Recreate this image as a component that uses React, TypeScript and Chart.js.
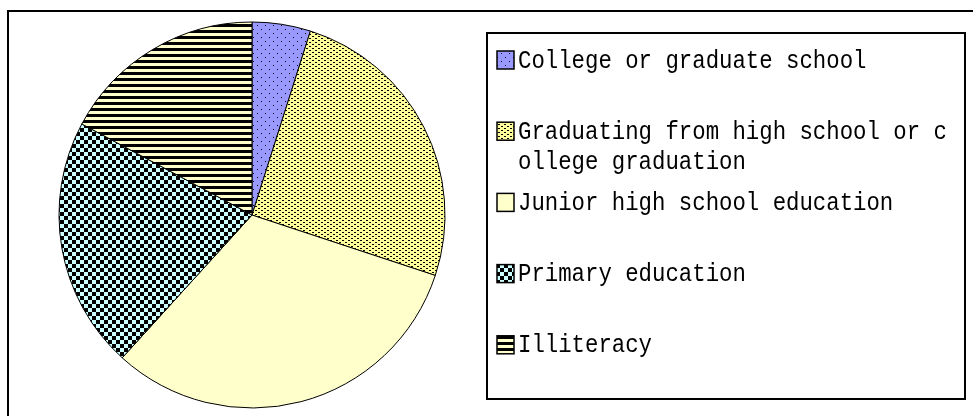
import { useEffect, useRef } from "react";
import { Chart, registerables } from "chart.js";

Chart.register(...registerables);

const categories = [
  "College or graduate school",
  "Graduating from high school or college graduation",
  "Junior high school education",
  "Primary education",
  "Illiteracy",
];
const shares = [4.9, 25.2, 31.7, 21.1, 17.2];

type Cell = [number, number, number, number];

function makePattern(
  ctx: CanvasRenderingContext2D,
  w: number,
  h: number,
  bg: string,
  fg: string,
  cells: Cell[]
): CanvasPattern | string {
  const c = document.createElement("canvas");
  c.width = w;
  c.height = h;
  const g = c.getContext("2d")!;
  g.fillStyle = bg;
  g.fillRect(0, 0, w, h);
  g.fillStyle = fg;
  cells.forEach(([x, y, cw, ch]) => g.fillRect(x, y, cw, ch));
  return ctx.createPattern(c, "repeat") || bg;
}

export default function App() {
  const ref = useRef<HTMLCanvasElement | null>(null);

  useEffect(() => {
    document.body.style.margin = "0";
    const canvas = ref.current!;
    const ctx = canvas.getContext("2d")!;

    const fills = [
      makePattern(ctx, 8, 8, "#9999ff", "#000", [
        [1, 1, 1, 1],
        [5, 5, 1, 1],
      ]),
      makePattern(ctx, 6, 4, "#ffff99", "#000", [
        [0, 0, 2, 1],
        [3, 2, 2, 1],
      ]),
      "#ffffcc",
      makePattern(ctx, 8, 8, "#ccffff", "#000", [
        [0, 0, 4, 4],
        [4, 4, 4, 4],
      ]),
      makePattern(ctx, 6, 6, "#ffffcc", "#000", [[0, 0, 6, 3]]),
    ];

    const frameAndLegend = {
      id: "frameAndLegend",
      afterDraw(chart: Chart) {
        const c = chart.ctx;
        c.save();
        // outer frame (only top and left visible)
        c.fillStyle = "#000";
        c.fillRect(7, 10, 2, 406);
        c.fillRect(7, 10, 966, 2);
        // legend box
        c.strokeStyle = "#000";
        c.lineWidth = 2;
        c.strokeRect(487, 33, 478, 366);
        // entries
        const maxChars = 32;
        const y0 = 60;
        const step = 71.2;
        const lineH = 30;
        const fontPx = 25;
        const sx = 13.4 / (fontPx * 0.6);
        c.font = `${fontPx}px "Liberation Mono", monospace`;
        c.textBaseline = "middle";
        c.textAlign = "left";
        categories.forEach((label, i) => {
          const cy = y0 + step * i;
          c.fillStyle = fills[i] as any;
          c.fillRect(497, cy - 9, 17, 18);
          c.lineWidth = 1.5;
          c.strokeStyle = "#000";
          c.strokeRect(497, cy - 9, 17, 18);
          const lines: string[] = [];
          for (let k = 0; k < label.length; k += maxChars) lines.push(label.slice(k, k + maxChars));
          c.fillStyle = "#000";
          lines.forEach((ln, j) => {
            c.save();
            c.translate(518, cy + j * lineH);
            c.scale(sx, 1);
            c.fillText(ln, 0, 1);
            c.restore();
          });
        });
        c.restore();
      },
    };

    const chart = new Chart(canvas, {
      type: "pie",
      data: {
        labels: categories,
        datasets: [
          {
            data: shares,
            backgroundColor: fills as any,
            borderColor: "#000",
            borderWidth: 1,
          },
        ],
      },
      options: {
        animation: false,
        responsive: false,
        devicePixelRatio: 1,
        radius: 193,
        layout: { padding: { left: 59, top: 22, right: 528, bottom: 8 } },
        plugins: {
          legend: { display: false },
          tooltip: { enabled: false },
        },
      } as any,
      plugins: [frameAndLegend],
    });
    return () => chart.destroy();
  }, []);

  return <canvas ref={ref} width={973} height={416} style={{ display: "block" }} />;
}
